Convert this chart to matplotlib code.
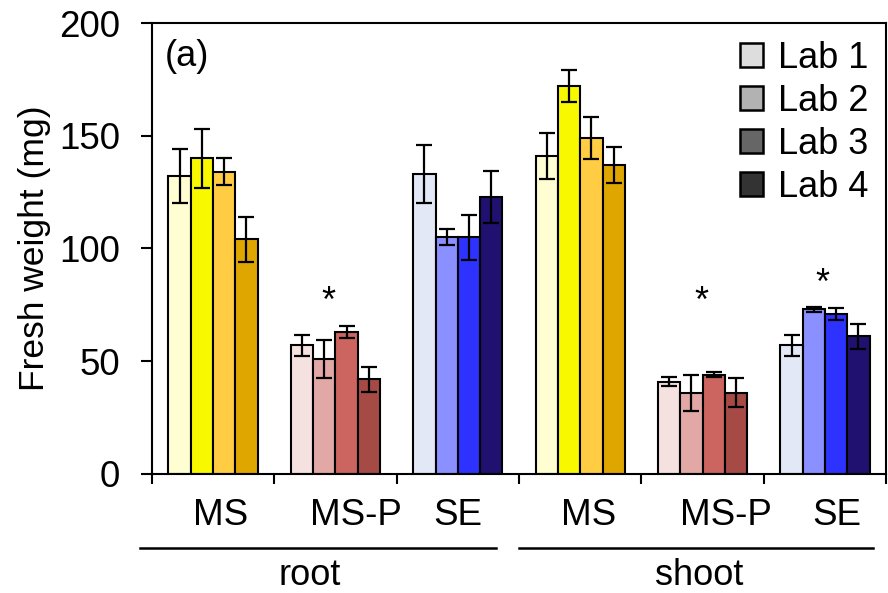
import numpy as np
import matplotlib
matplotlib.use('Agg')
import matplotlib.pyplot as plt
from matplotlib.patches import Patch

plt.rcParams['font.family'] = ['Liberation Sans', 'DejaVu Sans']

# Data (mg), order: root MS, root MS-P, root SE, shoot MS, shoot MS-P, shoot SE
groups = ['MS', 'MS-P', 'SE', 'MS', 'MS-P', 'SE']
labs = ['Lab 1', 'Lab 2', 'Lab 3', 'Lab 4']
means = [
    [132, 140, 134, 104],
    [57, 51, 63, 42],
    [133, 105, 105, 123],
    [141, 172, 149, 137],
    [41, 36, 44, 36],
    [57, 73, 71, 61],
]
errs = [
    [12, 13, 6, 10],
    [4.5, 8.5, 2.5, 5.5],
    [13, 3.5, 10, 11.5],
    [10, 7, 9.5, 8],
    [2, 8, 1.2, 6.5],
    [4.5, 1.2, 2.5, 5.5],
]
colors = [
    ['#FFFDD2', '#F8F800', '#FFCC44', '#E0A600'],
    ['#F5E2E0', '#E2A8A6', '#CC6460', '#A64A45'],
    ['#E2E8F5', '#8A90FF', '#2D32FF', '#201070'],
    ['#FFFDD2', '#F8F800', '#FFCC44', '#E0A600'],
    ['#F5E2E0', '#E2A8A6', '#CC6460', '#A64A45'],
    ['#E2E8F5', '#8A90FF', '#2D32FF', '#201070'],
]
legend_colors = ['#DDDDDD', '#B2B2B2', '#666666', '#333333']
label_x = [0.56, 1.67, 2.50, 3.57, 4.69, 5.60]
stars = [(1.44, 76), (4.49, 76), (5.48, 84)]

fig = plt.figure(figsize=(8.88, 5.93), dpi=100)
ax = fig.add_axes([0.171, 0.2007, 0.827, 0.7605])

width = 0.182
offsets = (np.arange(4) - 1.5) * width
for g in range(len(groups)):
    x = g + 0.5 + offsets
    ax.bar(x, means[g], width, color=colors[g], edgecolor='black', linewidth=1.5,
           zorder=2)
    ax.errorbar(x, means[g], yerr=errs[g], fmt='none', ecolor='black',
                elinewidth=1.6, capsize=6, capthick=1.6, zorder=3)

for sx, sy in stars:
    ax.text(sx, sy, '*', ha='center', va='center', fontsize=26)

ax.set_xlim(0, 6)
ax.set_ylim(0, 200)
ax.set_yticks([0, 50, 100, 150, 200])
ax.set_xticks(range(7))
ax.set_xticklabels([])
ax.tick_params(axis='y', labelsize=26.5, width=1.5, length=8, pad=15,
               direction='out')
ax.tick_params(axis='x', width=1.5, length=7, direction='out')
for sp in ax.spines.values():
    sp.set_linewidth(1.5)
ax.set_ylabel('Fresh weight (mg)', fontsize=25.5, labelpad=6)

ax.text(0.018, 0.965, '(a)', transform=ax.transAxes, fontsize=26, va='top')

trans = ax.get_xaxis_transform()
for lx, name in zip(label_x, groups):
    ax.text(lx, -0.093, name, transform=trans, ha='center', va='center',
            fontsize=26.5, clip_on=False)

ax.plot([-0.10, 2.81], [-0.164, -0.164], transform=trans, color='black',
        linewidth=1.8, clip_on=False)
ax.plot([3.00, 5.89], [-0.164, -0.164], transform=trans, color='black',
        linewidth=1.8, clip_on=False)
ax.text(1.29, -0.226, 'root', transform=trans, ha='center', va='center',
        fontsize=26, clip_on=False)
ax.text(4.47, -0.226, 'shoot', transform=trans, ha='center', va='center',
        fontsize=26, clip_on=False)

handles = [Patch(facecolor=c, edgecolor='black', linewidth=1.8) for c in legend_colors]
ax.legend(handles, labs, loc='upper right', fontsize=26, frameon=False,
          handlelength=0.65, handleheight=0.65, handletextpad=0.4,
          labelspacing=0.22, borderaxespad=0.1)

fig.savefig('out.png', dpi=100)
